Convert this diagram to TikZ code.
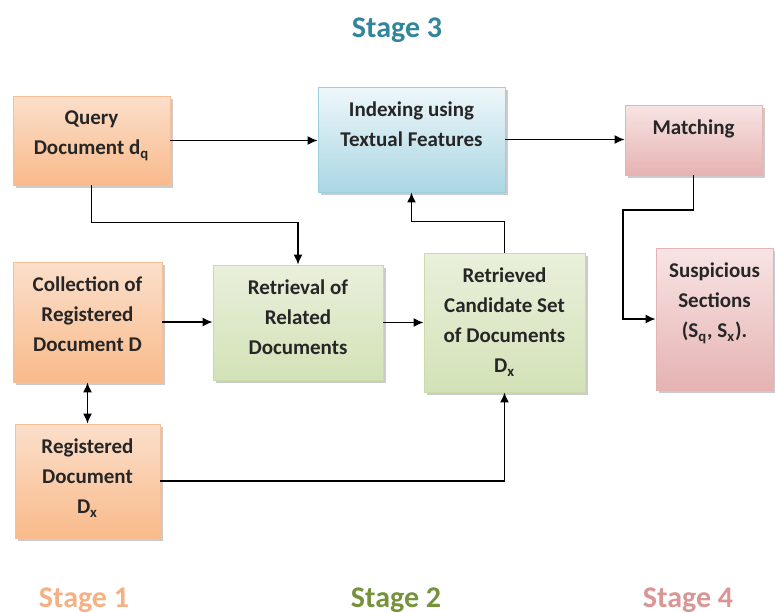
\documentclass[tikz,border=0pt]{standalone}
\usepackage{fontspec}
\setmainfont{Carlito}
\usetikzlibrary{shadows,arrows.meta}

\definecolor{peachline}{HTML}{F6BE94}
\definecolor{peachtop}{HTML}{FBDFCB}
\definecolor{peachbot}{HTML}{F9BA8A}
\definecolor{greenline}{HTML}{C9DBA6}
\definecolor{greentop}{HTML}{E9F0DB}
\definecolor{greenbot}{HTML}{D3E2B7}
\definecolor{blueline}{HTML}{9ACFDF}
\definecolor{bluetop}{HTML}{EEF7FA}
\definecolor{bluebot}{HTML}{AAD6E3}
\definecolor{pinkline}{HTML}{E3B4B3}
\definecolor{pinktop}{HTML}{F8E4E4}
\definecolor{pinkbot}{HTML}{E5B3B2}
\definecolor{stageone}{HTML}{F5B183}
\definecolor{stagetwo}{HTML}{76933C}
\definecolor{stagethree}{HTML}{31859C}
\definecolor{stagefour}{HTML}{D99694}

\begin{document}
\begin{tikzpicture}[
	x=0.5pt, y=-0.5pt,
	>={Latex[length=5pt,width=4.5pt]},
	orangebox/.style={
		rectangle,
		draw=peachline,
		top color=peachtop,
		middle color=white!70!peachtop,
		bottom color=peachbot,
		drop shadow={shadow xshift=1.5pt, shadow yshift=-1.5pt, fill=black!45, opacity=0.45}
	},
	greenbox/.style={
		rectangle,
		draw=greenline,
		top color=greentop,
		middle color=white!60!greentop,
		bottom color=greenbot,
		drop shadow={shadow xshift=1.5pt, shadow yshift=-1.5pt, fill=black!45, opacity=0.45}
	},
	bluebox/.style={
		rectangle,
		draw=blueline,
		top color=bluetop,
		bottom color=bluebot,
		drop shadow={shadow xshift=1.5pt, shadow yshift=-1.5pt, fill=black!45, opacity=0.45}
	},
	pinkbox/.style={
		rectangle,
		draw=pinkline,
		top color=pinktop,
		middle color=white!60!pinktop,
		bottom color=pinkbot,
		drop shadow={shadow xshift=1.5pt, shadow yshift=-1.5pt, fill=black!45, opacity=0.45}
	},
	boxtext/.style={
		anchor=north,
		inner sep=0pt,
		align=center,
		text=black!85,
		font=\fontsize{10.5}{15}\selectfont\bfseries
	},
	stagename/.style={
		font=\fontsize{15}{17}\selectfont\bfseries
	},
]

\useasboundingbox (0,0) rectangle (775,612);

%% Boxes %%
% stage 1 %
\node[orangebox, minimum width=78.5pt, minimum height=44.5pt] (query) at (91.5,140.5) {};
\node[orangebox, minimum width=74.5pt, minimum height=60pt] (coll) at (87.5,322) {};
\node[orangebox, minimum width=72.5pt, minimum height=57pt] (reg) at (87.5,481) {};

% stage 2 %
\node[greenbox, minimum width=85pt, minimum height=57.5pt] (related) at (298,322.5) {};
\node[greenbox, minimum width=80.5pt, minimum height=69.5pt] (cand) at (504.5,322.5) {};

% stage 3 %
\node[bluebox, minimum width=93.5pt, minimum height=52.5pt] (index) at (411.5,139.5) {};

% stage 4 %
\node[pinkbox, minimum width=68.5pt, minimum height=35pt] (match) at (693.5,140) {};
\node[pinkbox, minimum width=58.5pt, minimum height=71pt] (susp) at (714.5,319) {};

%% Box texts %%
\node[boxtext] (query-txt) at ([yshift=-7.5pt]query.north) {Query\\Document d\textsubscript{q}};
\node[boxtext] (coll-txt) at ([yshift=-7.5pt]coll.north) {Collection of\\Registered\\Document D};
\node[boxtext] (reg-txt) at ([yshift=-7.5pt]reg.north) {Registered\\Document\\D\textsubscript{x}};
\node[boxtext] (related-txt) at ([yshift=-7.5pt]related.north) {Retrieval of\\Related\\Documents};
\node[boxtext] (cand-txt) at ([yshift=-7.5pt]cand.north) {Retrieved\\Candidate Set\\of Documents\\D\textsubscript{x}};
\node[boxtext] (index-txt) at ([yshift=-7.5pt]index.north) {Indexing using\\Textual Features};
\node[boxtext] (match-txt) at ([yshift=-7.5pt]match.north) {Matching};
\node[boxtext] (susp-txt) at ([yshift=-7.5pt]susp.north) {Suspicious\\Sections\\(S\textsubscript{q}, S\textsubscript{x}).};

%% Connection arrows %%
\draw[->, thick] (query.east) -- (query.east -| index.west);
\draw[->, thick] (index.east) -- (index.east -| match.west);
\draw[->, thick] (query.south) -- ++(0,37) -| (related.north);
\draw[->, thick] (coll.east) -- (coll.east -| related.west);
\draw[->, thick] (related.east) -- (related.east -| cand.west);
\draw[->, thick] (cand.north) -- ++(0,-31) -| (index.south);
\draw[<->, thick] (coll.south) -- (reg.north);
\draw[->, thick] (reg.east) -| (cand.south);

\coordinate (mbend) at (623,210);
\draw[->, thick] (match.south) |- (mbend) |- (susp.west);

%% Stage names %%
\node[stagename, text=stageone] (stage1) at (84,600) {Stage 1};
\node[stagename, text=stagetwo] (stage2) at (396,600) {Stage 2};
\node[stagename, text=stagethree] (stage3) at (397,30) {Stage 3};
\node[stagename, text=stagefour] (stage4) at (688,600) {Stage 4};

\end{tikzpicture}
\end{document}
